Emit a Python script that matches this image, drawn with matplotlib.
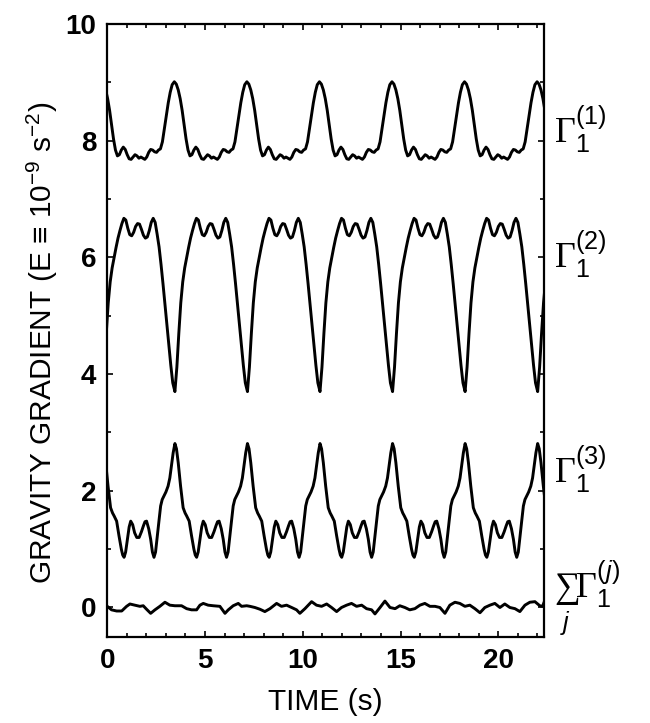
import numpy as np
import matplotlib
matplotlib.use("Agg")
import matplotlib.pyplot as plt
from matplotlib.ticker import MultipleLocator

plt.rcParams['font.family'] = ['Liberation Sans', 'DejaVu Sans']
plt.rcParams['mathtext.fontset'] = 'custom'
plt.rcParams['mathtext.rm'] = 'Liberation Serif'
plt.rcParams['mathtext.sf'] = 'Liberation Sans'
plt.rcParams['mathtext.it'] = 'Liberation Sans:italic'
plt.rcParams['mathtext.bf'] = 'Liberation Sans:bold'

# =========================
# data
# =========================
period = 3.71          # s, rotation period seen in all three components
t_end = 22.35

# Gamma_1^(1): one cycle, phase 0 at the peak
g1_phase = [0.0, 0.1, 0.2, 0.3, 0.4, 0.5, 0.6, 0.7, 0.8, 0.9, 1.0, 1.1, 1.2,
            1.3, 1.4, 1.5, 1.6, 1.7, 1.8, 1.9, 2.0, 2.1, 2.2, 2.3, 2.4, 2.5,
            2.6, 2.7, 2.8, 2.9, 3.0, 3.1, 3.2, 3.3, 3.4, 3.5, 3.6]
g1_vals = [9.01, 8.97, 8.87, 8.72, 8.52, 8.27, 8.03, 7.84, 7.74, 7.76, 7.84,
           7.89, 7.85, 7.76, 7.69, 7.68, 7.72, 7.76, 7.74, 7.70, 7.72, 7.70,
           7.68, 7.72, 7.80, 7.85, 7.84, 7.81, 7.80, 7.84, 7.86, 7.98, 8.20,
           8.42, 8.65, 8.83, 8.96]
g1_first = -0.28

# Gamma_1^(2): one cycle, phase 0 at the trough
g2_phase = g1_phase
g2_vals = [3.70, 4.12, 4.70, 5.22, 5.58, 5.82, 6.00, 6.17, 6.33, 6.46, 6.58,
           6.67, 6.64, 6.50, 6.39, 6.37, 6.43, 6.53, 6.58, 6.57, 6.48, 6.38,
           6.33, 6.35, 6.46, 6.60, 6.67, 6.60, 6.40, 6.18, 5.88, 5.55, 5.20,
           4.85, 4.50, 4.15, 3.85]
g2_first = -0.25

# Gamma_1^(3): one cycle, phase 0 at the peak
g3_phase = [0.00, 0.08, 0.17, 0.29, 0.42, 0.52, 0.60, 0.73, 0.85, 0.97, 1.04,
            1.11, 1.19, 1.28, 1.37, 1.45, 1.55, 1.65, 1.76, 1.88, 2.00, 2.10,
            2.18, 2.26, 2.37, 2.47, 2.56, 2.64, 2.72, 2.81, 2.90, 2.98, 3.06,
            3.15, 3.25, 3.36, 3.45, 3.53, 3.62]
g3_vals = [2.81, 2.72, 2.48, 2.08, 1.71, 1.62, 1.57, 1.48, 1.23, 1.00, 0.90,
           0.86, 0.95, 1.17, 1.38, 1.48, 1.42, 1.28, 1.20, 1.20, 1.30, 1.40,
           1.47, 1.48, 1.35, 1.17, 0.95, 0.86, 0.95, 1.23, 1.50, 1.74, 1.85,
           1.91, 1.98, 2.08, 2.22, 2.42, 2.65]
g3_first = -0.25

# sum over j
sum_t = [0.00, 0.22, 0.48, 0.74, 0.99, 1.16, 1.41, 1.67, 1.84, 2.01, 2.22,
         2.44, 2.69, 2.95, 3.20, 3.46, 3.80, 4.06, 4.31, 4.57, 4.74, 4.91,
         5.16, 5.42, 5.76, 6.02, 6.19, 6.44, 6.70, 6.87, 7.13, 7.30, 7.55,
         7.81, 8.06, 8.32, 8.66, 8.91, 9.17, 9.43, 9.68, 9.85, 10.11, 10.45,
         10.70, 10.96, 11.22, 11.47, 11.73, 11.98, 12.24, 12.49, 12.75, 13.01,
         13.26, 13.52, 13.69, 13.95, 14.20, 14.46, 14.72, 14.96, 15.22, 15.47,
         15.73, 15.99, 16.24, 16.50, 16.76, 17.01, 17.27, 17.52, 17.78, 18.03,
         18.29, 18.54, 18.80, 19.06, 19.31, 19.57, 19.82, 20.08, 20.33, 20.59,
         20.85, 21.10, 21.36, 21.61, 21.87, 22.12, 22.26, 22.35]
sum_v = [0.02, -0.04, -0.06, -0.06, 0.02, 0.06, 0.04, 0.02, 0.03, -0.03,
         -0.10, -0.04, 0.02, 0.09, 0.04, 0.03, 0.03, -0.02, -0.04, -0.04,
         0.04, 0.07, 0.04, 0.03, 0.02, -0.10, -0.04, 0.03, 0.07, 0.02, 0.03,
         0.02, 0.00, -0.03, -0.07, -0.02, 0.07, 0.02, 0.04, 0.00, -0.04, -0.10,
         -0.02, 0.10, 0.04, 0.02, 0.06, 0.00, -0.07, 0.00, 0.04, 0.07, 0.02,
         0.04, -0.02, -0.04, -0.11, 0.00, 0.11, 0.00, -0.02, 0.03, 0.00, -0.04,
         -0.02, 0.04, 0.07, 0.02, 0.02, 0.00, -0.10, 0.04, 0.09, 0.07, 0.02,
         0.04, -0.02, -0.09, 0.00, 0.04, 0.07, 0.00, 0.06, 0.00, -0.02, -0.07,
         0.04, 0.09, 0.10, 0.03, 0.02, 0.10]

labels = [r'$\Gamma_{\mathsf{1}}^{\mathsf{(1)}}$',
          r'$\Gamma_{\mathsf{1}}^{\mathsf{(2)}}$',
          r'$\Gamma_{\mathsf{1}}^{\mathsf{(3)}}$',
          r'$\sum_{\mathit{j}}\Gamma_{\mathsf{1}}^{\mathsf{(}\mathit{j}\mathsf{)}}$']
label_y = [8.2, 6.05, 2.37, 0.15]


def repeat_cycle(phase, vals, first):
    ts, vs = [], []
    k = 0
    while first + k * period < t_end + period:
        ts.extend(first + k * period + np.asarray(phase))
        vs.extend(vals)
        k += 1
    return np.array(ts), np.array(vs)


fig = plt.figure(figsize=(6.5, 7.23), dpi=100)
ax = fig.add_axes([0.165, 0.1194, 0.6724, 0.8474])

for ph, vals, first in [(g1_phase, g1_vals, g1_first),
                        (g2_phase, g2_vals, g2_first),
                        (g3_phase, g3_vals, g3_first)]:
    t, v = repeat_cycle(ph, vals, first)
    ax.plot(t, v, color='black', lw=2.1, solid_joinstyle='round')
ax.plot(sum_t, sum_v, color='black', lw=2.1, solid_joinstyle='round')

ax.set_xlim(0, t_end)
ax.set_ylim(-0.5, 10)

ax.xaxis.set_major_locator(MultipleLocator(5))
ax.xaxis.set_minor_locator(MultipleLocator(1))
ax.yaxis.set_major_locator(MultipleLocator(2))
ax.yaxis.set_minor_locator(MultipleLocator(1))
ax.tick_params(which='both', direction='in', top=True, right=True, width=1.2)
ax.tick_params(which='major', length=4.5, pad=8, labelsize=20)
ax.tick_params(which='minor', length=2.8)
for lab in ax.get_xticklabels() + ax.get_yticklabels():
    lab.set_fontweight('bold')
for s in ax.spines.values():
    s.set_linewidth(1.6)

ax.set_xlabel('TIME (s)', fontsize=21.5, labelpad=10)
ax.set_ylabel(r'GRAVITY GRADIENT (E ≡ 10$^{\mathsf{-9}}$ s$^{\mathsf{-2}}$)',
              fontsize=21.5)
ax.yaxis.set_label_coords(-0.107, 0.48)

for txt, y in zip(labels, label_y):
    ax.text(1.022, y, txt, transform=ax.get_yaxis_transform(),
            fontsize=26, va='center', ha='left')

fig.savefig('out.png', dpi=100)
